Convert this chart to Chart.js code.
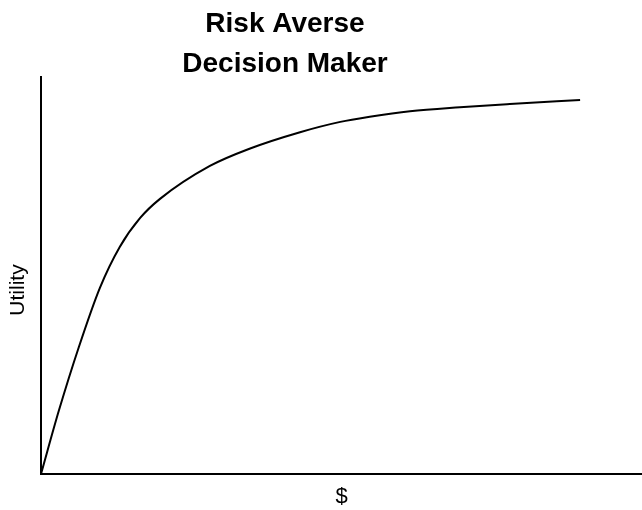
<!DOCTYPE html>
<html>
<head>
<meta charset="utf-8">
<script src="https://cdn.jsdelivr.net/npm/chart.js@4"></script>
<style>
  html, body { margin: 0; padding: 0; background: #fff; }
  #wrap { width: 642px; height: 510px; position: relative; }
</style>
</head>
<body>
<div id="wrap"><canvas id="c" width="642" height="510"></canvas></div>
<script>
const titleLines = ['Risk Averse', 'Decision Maker'];
const xLabel = '$';
const yLabel = 'Utility';
const wealth = [0, 3.0, 6.3, 9.8, 13.1, 16.5, 19.8, 28.1, 34.8, 43.1, 49.8, 54.7, 61.4, 69.7, 78.0, 89.7];
const utility = [0, 16.1, 32.0, 46.9, 57.2, 64.5, 69.3, 77.6, 82.0, 86.1, 88.7, 90.0, 91.4, 92.4, 93.2, 94.2];

const points = wealth.map((x, i) => ({ x: x, y: utility[i] }));

const textPlugin = {
  id: 'extraText',
  afterDraw(chart) {
    const ctx = chart.ctx;
    ctx.save();
    ctx.fillStyle = '#000';
    ctx.font = 'bold 28px "Liberation Sans", Arial, sans-serif';
    ctx.textAlign = 'center';
    ctx.textBaseline = 'alphabetic';
    ctx.fillText(titleLines[0], 285, 32);
    ctx.fillText(titleLines[1], 285, 72);
    ctx.font = '21px "Liberation Sans", Arial, sans-serif';
    ctx.textBaseline = 'middle';
    ctx.translate(18, 290);
    ctx.rotate(-Math.PI / 2);
    ctx.fillText(yLabel, 0, 0);
    ctx.restore();
  }
};

new Chart(document.getElementById('c'), {
  type: 'scatter',
  data: {
    datasets: [{
      data: points,
      showLine: true,
      borderColor: '#000',
      borderWidth: 2,
      pointRadius: 0,
      fill: false,
      cubicInterpolationMode: 'monotone'
    }]
  },
  options: {
    responsive: false,
    animation: false,
    layout: { padding: { top: 77, right: 0, left: 0, bottom: 0 } },
    plugins: { legend: { display: false }, tooltip: { enabled: false }, title: { display: false } },
    scales: {
      x: {
        type: 'linear', min: 0, max: 100,
        grid: { display: false },
        border: { display: true, color: '#000', width: 2 },
        ticks: { display: false },
        title: { display: true, text: xLabel, color: '#000', font: { family: '"Liberation Sans", Arial, sans-serif', size: 22 }, padding: { top: 0, bottom: 0 } },
        afterFit(s) { s.height = 36; }
      },
      y: {
        type: 'linear', min: 0, max: 100,
        grid: { display: false },
        border: { display: true, color: '#000', width: 2 },
        ticks: { display: false },
        title: { display: false },
        afterFit(s) { s.width = 41; }
      }
    }
  },
  plugins: [textPlugin]
});
</script>
</body>
</html>
